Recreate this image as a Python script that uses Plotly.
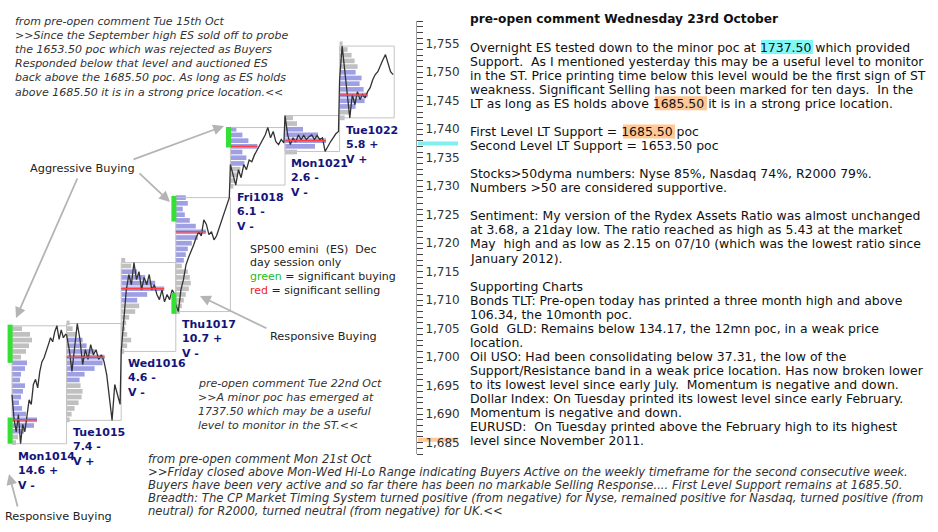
import plotly.graph_objects as go

FONT = "DejaVu Sans"

# ---------------- data ----------------
days = ["Mon1014", "Tue1015", "Wed1016", "Thu1017", "Fri1018", "Mon1021", "Tue1022"]
day_range = [14.6, 7.4, 4.6, 10.7, 6.1, 2.6, 5.8]
range_sign = ["+", "-", "-", "+", "-", "-", "+"]
vol_sign = ["-", "+", "-", "-", "-", "-", "+"]

prices_mon1014 = [1693.4, 1689.0, 1686.9, 1689.9, 1684.8, 1688.2, 1686.9, 1689.4, 1692.5, 1691.7,
                  1695.2, 1696.1, 1694.6, 1697.5, 1699.2, 1699.9, 1701.3, 1702.2, 1703.4, 1702.7,
                  1704.5, 1705.5, 1703.1, 1704.8, 1703.4, 1704.0]
prices_tue1015 = [1703.9, 1701.3, 1697.5, 1702.2, 1705.9, 1703.1, 1698.7, 1701.3, 1699.6, 1702.2,
                  1700.4, 1701.3, 1699.6, 1700.4, 1699.2, 1696.9, 1692.5, 1688.9, 1695.2, 1693.4, 1691.7]
prices_wed1016 = [1701.0, 1706.6, 1711.8, 1714.5, 1712.7, 1716.6, 1713.6, 1715.0, 1711.8, 1714.0,
                  1712.7, 1714.5, 1711.8, 1712.7, 1711.0, 1710.1, 1711.8, 1709.7, 1711.0, 1710.1,
                  1711.8, 1711.0]
prices_thu1017 = [1709.2, 1708.0, 1711.8, 1713.6, 1716.2, 1717.5, 1718.5, 1719.7, 1721.0, 1722.0,
                  1721.3, 1724.1, 1723.3, 1721.5, 1722.0, 1720.6, 1721.3, 1722.7, 1723.8, 1725.5,
                  1726.8, 1728.0]
prices_fri1018 = [1733.8, 1732.0, 1730.2, 1732.9, 1731.5, 1733.8, 1732.9, 1734.6, 1734.3, 1735.5,
                  1736.4, 1737.3, 1738.2, 1739.0, 1740.3, 1738.5, 1739.6, 1737.8, 1737.3, 1738.2, 1737.6]
prices_mon1021 = [1742.4, 1739.0, 1737.3, 1738.5, 1737.8, 1739.0, 1738.2, 1738.9, 1738.2, 1738.7,
                  1739.0, 1738.2, 1738.9, 1738.2, 1738.5, 1736.1, 1737.1, 1737.8, 1738.5, 1739.2, 1739.6]
prices_tue1022 = [1748.7, 1754.6, 1750.4, 1745.2, 1742.0, 1746.1, 1744.3, 1746.6, 1745.2, 1746.1,
                  1745.5, 1746.6, 1747.3, 1748.7, 1749.6, 1750.1, 1751.3, 1752.2, 1753.1, 1751.8,
                  1750.1, 1749.6]
day_prices = [prices_mon1014, prices_tue1015, prices_wed1016, prices_thu1017,
              prices_fri1018, prices_mon1021, prices_tue1022]

# volume profile (relative volume per 1-point level, lowest level first)
profile_base = [1685, 1689, 1701, 1708, 1730, 1736, 1742]
profile_mon1014 = [4, 6, 12, 22, 25, 14, 10, 7, 9, 11, 13, 8, 9, 13, 15, 9, 14, 17, 20, 18, 10]
profile_tue1015 = [3, 5, 8, 12, 15, 16, 14, 13, 18, 28, 36, 38, 28, 20, 16, 10, 6, 3]
profile_wed1016 = [3, 6, 10, 6, 4, 5, 8, 14, 18, 16, 26, 43, 34, 24, 16, 10, 4]
profile_thu1017 = [4, 6, 8, 10, 13, 15, 14, 12, 6, 8, 10, 12, 16, 22, 30, 20, 14, 9, 7, 12, 10]
profile_fri1018 = [3, 5, 7, 10, 14, 16, 12, 27, 18, 12, 6]
profile_mon1021 = [12, 30, 41, 33, 18, 12, 8]
profile_tue1022 = [5, 10, 16, 25, 28, 24, 20, 22, 16, 18, 15, 12, 8, 3]
day_profiles = [profile_mon1014, profile_tue1015, profile_wed1016, profile_thu1017,
                profile_fri1018, profile_mon1021, profile_tue1022]
va_low = [1687, 1696, 1710, 1717, 1734, 1737, 1744]
va_high = [1699, 1703, 1715, 1728, 1740, 1740, 1750]

# significant buying zones
green_day = [0, 0, 3, 3, 4]
green_low = [1699.0, 1684.8, 1723.8, 1707.6, 1736.8]
green_high = [1705.7, 1689.4, 1728.3, 1711.3, 1740.4]

support_levels = [1737.50, 1685.50]
support_colors = ["#7fefef", "#ffc896"]

# ---------------- styles / layout geometry ----------------
W, H = 938, 532
PLOT_R = 416          # pixel x of the price axis
PLOT_T, PLOT_B = 21, 454
DAY_PX = 54.6
X0_PX = 12
VOL_SCALE = 1.0 / DAY_PX
BLUE = "rgba(80,80,205,0.55)"
GREY = "rgba(165,165,165,0.7)"


def px(x):
    return x / PLOT_R


def py(y):
    return (PLOT_B - y) / (PLOT_B - PLOT_T)


fig = go.Figure()

# profiles
for i, prof in enumerate(day_profiles):
    levels = [profile_base[i] + j for j in range(len(prof))]
    cols = [BLUE if va_low[i] <= lv <= va_high[i] else GREY for lv in levels]
    fig.add_trace(go.Bar(y=levels, x=[v * VOL_SCALE for v in prof], base=i, orientation="h",
                         width=0.82, marker=dict(color=cols, line=dict(width=0)),
                         hoverinfo="skip", showlegend=False))

# day boxes
for i, pr in enumerate(day_prices):
    lo, hi = min(pr), max(pr)
    fig.add_trace(go.Scatter(x=[i, i + 1, i + 1, i, i], y=[lo, lo, hi, hi, lo], mode="lines",
                             line=dict(color="#c4c4c4", width=1), hoverinfo="skip", showlegend=False))

# price line
xs, ys = [], []
for i, pr in enumerate(day_prices):
    n = len(pr)
    xs += [i + k / (n - 1) * 0.98 for k in range(n)]
    ys += pr
fig.add_trace(go.Scatter(x=xs, y=ys, mode="lines", line=dict(color="#333333", width=1.3),
                         hoverinfo="skip", showlegend=False))

# POC lines
for i, prof in enumerate(day_profiles):
    m = max(prof)
    poc = profile_base[i] + prof.index(m)
    fig.add_trace(go.Scatter(x=[i, i + m * VOL_SCALE], y=[poc, poc], mode="lines",
                             line=dict(color="#ff4040", width=1.5), hoverinfo="skip", showlegend=False))

# green significant-buying bars
for d, lo, hi in zip(green_day, green_low, green_high):
    fig.add_trace(go.Scatter(x=[d - 0.035, d - 0.035], y=[lo, hi], mode="lines",
                             line=dict(color="#33e033", width=5), hoverinfo="skip", showlegend=False))

# support bands on the axis
for lv, c in zip(support_levels, support_colors):
    fig.add_shape(type="rect", xref="paper", yref="y", x0=418 / PLOT_R, x1=458 / PLOT_R,
                  y0=lv - 0.35, y1=lv + 0.35, fillcolor=c, line=dict(width=0), layer="below")

# day labels
for i, pr in enumerate(day_prices):
    fig.add_annotation(x=i + 0.08, y=min(pr), xref="x", yref="y", xanchor="left", yanchor="top",
                       yshift=-4, showarrow=False, align="left",
                       text=f"<b>{days[i]}<br>{day_range[i]} {range_sign[i]}<br>V {vol_sign[i]}</b>",
                       font=dict(family=FONT, size=11, color="#14147a"))


def txt(x, y, s, size=11, color="#222"):
    fig.add_annotation(x=px(x), y=py(y), xref="paper", yref="paper", text=s, showarrow=False,
                       xanchor="left", yanchor="middle", font=dict(family=FONT, size=size, color=color))


def block(x, y0, step, lines, size=11, color="#222", italic=False):
    for k, s in enumerate(lines):
        if s:
            txt(x, y0 + k * step, f"<i>{s}</i>" if italic else s, size, color)


def arrow(tx, ty, hx, hy):
    fig.add_annotation(x=px(hx), y=py(hy), xref="paper", yref="paper", ax=tx - hx, ay=ty - hy,
                       text="", showarrow=True, arrowhead=2, arrowsize=1.2, arrowwidth=1.8,
                       arrowcolor="#b4b4b4")


block(13, 21, 14.2, [
    "from pre-open comment Tue 15th Oct",
    "&gt;&gt;Since the September high ES sold off to probe",
    "the 1653.50 poc which was rejected as Buyers",
    "Responded below that level and auctioned ES",
    "back above the 1685.50 poc. As long as ES holds",
    "above 1685.50 it is in a strong price location.&lt;&lt;",
], size=11, color="#333", italic=True)

block(196, 383, 14.1, [
    "pre-open comment Tue 22nd Oct",
    "&gt;&gt;A minor poc has emerged at",
    "1737.50 which may be a useful",
    "level to monitor in the ST.&lt;&lt;",
], size=11, color="#333", italic=True)

block(146, 459, 13.0, [
    "from pre-open comment Mon 21st Oct",
    "&gt;&gt;Friday closed above Mon-Wed Hi-Lo Range indicating Buyers Active on the weekly timeframe for the second consecutive week.",
    "Buyers have been very active and so far there has been no markable Selling Response.... First Level Support remains at 1685.50.",
    "Breadth: The CP Market Timing System turned positive (from negative) for Nyse, remained positive for Nasdaq, turned positive (from",
    "neutral) for R2000, turned neutral (from negative) for UK.&lt;&lt;",
], size=11.6, color="#333", italic=True)

block(248, 249, 13.7, [
    "SP500 emini  (ES)  Dec",
    "day session only",
    "<span style='color:#22bb22'>green</span> = significant buying",
    "<span style='color:#ee2222'>red</span> = significant selling",
], size=11, color="#222")

txt(28, 168, "Aggressive Buying", 11.3, "#222")
txt(3, 516, "Responsive Buying", 11.3, "#222")
txt(268, 336, "Responsive Buying", 11.3, "#222")
arrow(78, 177, 16, 318)
arrow(138, 172, 170, 202)
arrow(132, 160, 224, 126)
arrow(18, 508, 9, 474)
arrow(268, 329, 200, 296)

# right hand commentary
RX = 468
txt(RX, 19, "<b>pre-open comment Wednesday 23rd October</b>", 12.2, "#111")
highlights = [(0, 761, 813, "#80f8f8"), (4, 655, 707, "#ffc896"), (6, 623, 675, "#ffc896")]
STEP = 14.07
for ln, x0, x1, c in highlights:
    yc = 47 + ln * STEP
    fig.add_shape(type="rect", xref="paper", yref="paper", x0=px(x0), x1=px(x1),
                  y0=py(yc + 7), y1=py(yc - 7), fillcolor=c, line=dict(width=0), layer="below")
block(RX, 47, STEP, [
    "Overnight ES tested down to the minor poc at 1737.50 which provided",
    "Support.  As I mentioned yesterday this may be a useful level to monitor",
    "in the ST. Price printing time below this level would be the first sign of ST",
    "weakness. Significant Selling has not been marked for ten days.  In the",
    "LT as long as ES holds above 1685.50 it is in a strong price location.",
    "",
    "First Level LT Support = 1685.50 poc",
    "Second Level LT Support = 1653.50 poc",
    "",
    "Stocks&gt;50dyma numbers: Nyse 85%, Nasdaq 74%, R2000 79%.",
    "Numbers &gt;50 are considered supportive.",
    "",
    "Sentiment: My version of the Rydex Assets Ratio was almost unchanged",
    "at 3.68, a 21day low. The ratio reached as high as 5.43 at the market",
    "May  high and as low as 2.15 on 07/10 (which was the lowest ratio since",
    "January 2012).",
    "",
    "Supporting Charts",
    "Bonds TLT: Pre-open today has printed a three month high and above",
    "106.34, the 10month poc.",
    "Gold  GLD: Remains below 134.17, the 12mn poc, in a weak price",
    "location.",
    "Oil USO: Had been consolidating below 37.31, the low of the",
    "Support/Resistance band in a weak price location. Has now broken lower",
    "to its lowest level since early July.  Momentum is negative and down.",
    "Dollar Index: On Tuesday printed its lowest level since early February.",
    "Momentum is negative and down.",
    "EURUSD:  On Tuesday printed above the February high to its highest",
    "level since November 2011.",
], size=12.45, color="#111")

fig.update_layout(
    width=W, height=H, autosize=False,
    margin=dict(l=0, r=W - PLOT_R, t=PLOT_T, b=H - PLOT_B, pad=0),
    paper_bgcolor="white", plot_bgcolor="white",
    barmode="overlay", showlegend=False,
    xaxis=dict(visible=False, range=[-X0_PX / DAY_PX, (PLOT_R - X0_PX) / DAY_PX], fixedrange=True),
    yaxis=dict(side="right", range=[1683, 1759], dtick=5, tick0=1685, tickformat=",.0f",
               showgrid=False, zeroline=False, showline=True, linecolor="#a0a0a0", linewidth=1,
               ticks="outside", ticklen=6, tickcolor="#444", tickwidth=1, fixedrange=True,
               tickfont=dict(family=FONT, size=12, color="#333"),
               minor=dict(dtick=1, ticks="outside", ticklen=6, tickcolor="#444", tickwidth=1, showgrid=False)),
    font=dict(family=FONT),
)

fig.write_html("out.html", config={"displayModeBar": False, "staticPlot": True},
               post_script="document.body.style.margin='0';document.body.style.overflow='hidden';")
